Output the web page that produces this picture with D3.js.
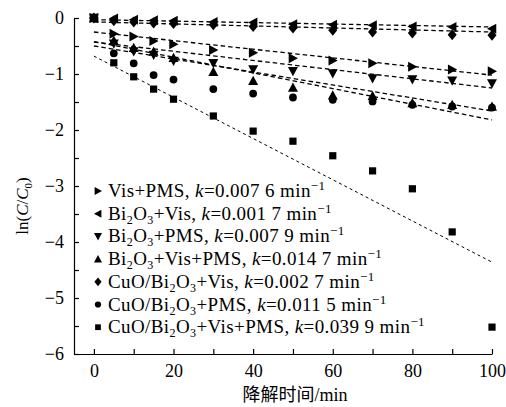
<!DOCTYPE html>
<html>
<head>
<meta charset="utf-8">
<script src="https://cdn.jsdelivr.net/npm/d3@7"></script>
<style>
  body { margin: 0; background: #fff; }
  text { font-family: "Liberation Serif", "Times New Roman", serif; fill: #000; }
</style>
</head>
<body>
<svg id="chart" width="506" height="407"></svg>
<script>
// sampling times (min)
const times = [0, 5, 10, 15, 20, 30, 40, 50, 60, 70, 80, 90, 100]

// ln(C/C0), one array per run
const visPMS      = [0, -0.28, -0.33, -0.41, -0.47, -0.57, -0.62, -0.72, -0.76, -0.81, -0.87, -0.92, -0.95]
const biVis       = [0, -0.01, -0.03, -0.04, -0.05, -0.07, -0.08, -0.11, -0.12, -0.13, -0.15, -0.16, -0.19]
const biPMS       = [0, -0.46, -0.60, -0.66, -0.77, -0.81, -0.92, -0.95, -0.99, -1.08, -1.10, -1.12, -1.17]
const biVisPMS    = [0, -0.40, -0.53, -0.60, -0.71, -0.96, -1.12, -1.24, -1.38, -1.39, -1.52, -1.55, -1.58]
const cuoVis      = [0, -0.05, -0.07, -0.09, -0.10, -0.12, -0.15, -0.18, -0.22, -0.25, -0.27, -0.30, -0.31]
const cuoPMS      = [0, -0.63, -0.81, -1.02, -1.10, -1.27, -1.35, -1.42, -1.46, -1.49, -1.55, -1.58, -1.60]
const cuoVisPMS   = [0, -0.80, -1.05, -1.27, -1.45, -1.75, -2.02, -2.20, -2.46, -2.73, -3.05, -3.82, -5.52]

// legend text ("_n" = subscript)
const names = ["Vis+PMS", "Bi_2O_3+Vis", "Bi_2O_3+PMS", "Bi_2O_3+Vis+PMS",
               "CuO/Bi_2O_3+Vis", "CuO/Bi_2O_3+PMS", "CuO/Bi_2O_3+Vis+PMS"]
const kValues = ["0.007 6", "0.001 7", "0.007 9", "0.014 7", "0.002 7", "0.011 5", "0.039 9"]
const shapes = ["right", "left", "down", "up", "diamond", "circle", "square"]

// fitted lines: ln(C/C0) at t=0 and t=100
const fitStart = [-0.25, -0.03, -0.43, -0.42, -0.07, -0.50, -0.68]
const fitEnd   = [-1.02, -0.16, -1.25, -1.82, -0.25, -1.66, -4.36]

// tick labels
const xTicks = [0, 10, 20, 30, 40, 50, 60, 70, 80, 90, 100]
const yTicks = [-6, -5.5, -5, -4.5, -4, -3.5, -3, -2.5, -2, -1.5, -1, -0.5, 0]

const allSeries = [visPMS, biVis, biPMS, biVisPMS, cuoVis, cuoPMS, cuoVisPMS]

const svg = d3.select("#chart")
const x = d3.scaleLinear().domain([-5, 100]).range([74, 492])
const y = d3.scaleLinear().domain([-6, 0]).range([354, 18])

// axes, ticks point inward
svg.append("g")
    .attr("transform", "translate(74,0)")
    .call(d3.axisLeft(y).tickValues(yTicks).tickSize(-5).tickSizeOuter(0).tickPadding(10)
      .tickFormat(d => Number.isInteger(d) ? d3.format("d")(d) : ""))
    .call(g => g.selectAll("text").style("font-size", "18px").style("font-family", "Liberation Serif"))
svg.append("g")
    .attr("transform", "translate(0,354)")
    .call(d3.axisBottom(x).tickValues(xTicks).tickSize(-5).tickSizeOuter(0).tickPadding(10)
      .tickFormat(d => d % 20 === 0 ? d : ""))
    .call(g => g.selectAll("text").style("font-size", "18px").style("font-family", "Liberation Serif"))
svg.selectAll(".domain, .tick line").attr("stroke", "#000").attr("stroke-width", 1.2)

// marker path, r = half size
function marker(shape, r) {
  switch (shape) {
    case "right": return `M${-r*0.85},${-r}L${r},0L${-r*0.85},${r}Z`
    case "left": return `M${r*0.85},${-r}L${-r},0L${r*0.85},${r}Z`
    case "down": return `M${-r},${-r*0.85}L${r},${-r*0.85}L0,${r}Z`
    case "up": return `M${-r},${r*0.85}L${r},${r*0.85}L0,${-r}Z`
    case "diamond": return `M0,${-r*1.1}L${r*0.9},0L0,${r*1.1}L${-r*0.9},0Z`
    case "circle": return d3.arc()({innerRadius: 0, outerRadius: r*0.78, startAngle: 0, endAngle: 2*Math.PI})
    case "square": return `M${-r*0.72},${-r*0.72}h${r*1.44}v${r*1.44}h${-r*1.44}Z`
  }
}

// fitted dashed lines
allSeries.forEach((s, i) => {
  svg.append("line")
    .attr("x1", x(0)).attr("y1", y(fitStart[i]))
    .attr("x2", x(100)).attr("y2", y(fitEnd[i]))
    .attr("stroke", "#000")
    .attr("stroke-width", i === 6 ? 1 : 1.3)
    .attr("stroke-dasharray", i === 6 ? "3,3" : "4.5,3")
})

// data markers
allSeries.forEach((s, i) => {
  svg.append("g").selectAll("path")
    .data(s)
    .enter().append("path")
    .attr("transform", (d, j) => "translate(" + x(times[j]) + "," + y(d) + ")")
    .attr("d", marker(shapes[i], 5))
    .attr("fill", "#000")
})

// legend
const legend = svg.append("g")
names.forEach((name, i) => {
  let ly = 191 + i * 22.7
  legend.append("path")
    .attr("transform", "translate(98," + ly + ")")
    .attr("d", marker(shapes[i], 4))
    .attr("fill", "#000")
  let t = legend.append("text")
    .attr("x", 108).attr("y", ly + 6)
    .style("font-size", "19px")
    .style("letter-spacing", "0.4px")
  let shift = 0 // pending baseline correction after a subscript
  name.split(/(_\d)/).forEach(part => {
    if (!part) return
    if (part.startsWith("_")) {
      t.append("tspan").attr("dy", 4 + shift).style("font-size", "12px").text(part.slice(1))
      shift = -4
    } else {
      t.append("tspan").attr("dy", shift).text(part)
      shift = 0
    }
  })
  t.append("tspan").attr("dy", shift).text(", ")
  t.append("tspan").style("font-style", "italic").text("k")
  t.append("tspan").text("=" + kValues[i] + " min")
  t.append("tspan").attr("dy", -7).style("font-size", "13px").text("\u22121")
})

// axis titles
svg.append("text")
    .attr("transform", "translate(28,206) rotate(-90)")
    .attr("text-anchor", "middle")
    .style("font-size", "17px")
    .call(t => {
      t.append("tspan").text("ln(")
      t.append("tspan").style("font-style", "italic").text("C")
      t.append("tspan").text("/")
      t.append("tspan").style("font-style", "italic").text("C")
      t.append("tspan").attr("dy", 4).style("font-size", "11px").text("0")
      t.append("tspan").attr("dy", -4).text(")")
    })
svg.append("text")
    .attr("x", 295).attr("y", 401)
    .attr("text-anchor", "middle")
    .style("font-size", "18px")
    .call(t => {
      t.append("tspan").style("font-family", "Noto Sans CJK SC").text("降解时间")
      t.append("tspan").text("/min")
    })
</script>
</body>
</html>
